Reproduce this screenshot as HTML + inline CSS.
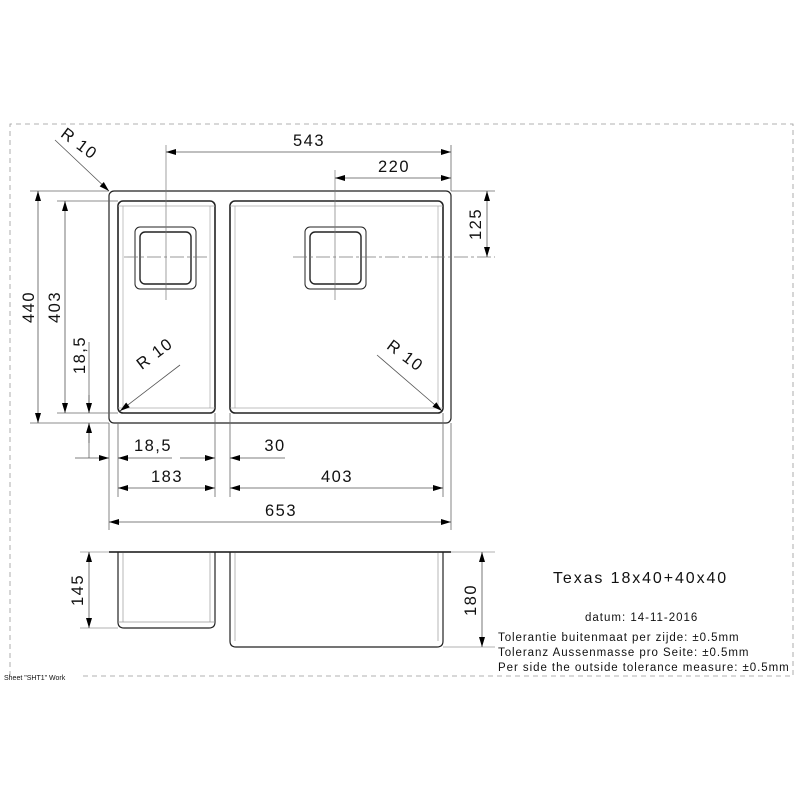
<!DOCTYPE html>
<html><head><meta charset="utf-8"><style>
html,body{margin:0;padding:0;background:#fff}
svg{display:block}
text{font-family:"Liberation Sans",sans-serif;fill:#111}
</style></head><body>
<svg width="800" height="800" viewBox="0 0 800 800" xmlns="http://www.w3.org/2000/svg">
<defs>
<marker id="a" viewBox="0 0 10 6" refX="10" refY="3" markerWidth="12" markerHeight="6" markerUnits="userSpaceOnUse" orient="auto-start-reverse"><path d="M0,0 L10,3 L0,6z" fill="#000"/></marker>
</defs>
<path d="M10,676 V124 H793 V676 H80" fill="none" stroke="#999" stroke-width="0.8" stroke-dasharray="5,4"/>
<text x="4" y="680" font-size="7" fill="#444">Sheet "SHT1" Work</text>

<g fill="none" stroke="#222">
<rect x="109" y="191" width="342" height="232" rx="5" stroke-width="1.2"/>
<rect x="118" y="201" width="97" height="212" rx="5" stroke-width="1.6"/>
<rect x="230" y="201" width="213" height="212" rx="5" stroke-width="1.6"/>
<rect x="135" y="227" width="61" height="62" rx="5" stroke-width="1"/>
<rect x="140" y="232" width="51" height="52" rx="5" stroke-width="1.4"/>
<rect x="305" y="227" width="61" height="62" rx="5" stroke-width="1"/>
<rect x="310" y="232" width="51" height="52" rx="5" stroke-width="1.4"/>
</g>
<g stroke="#aaa" stroke-width="0.7" fill="none">
<line x1="123" y1="206" x2="123" y2="408"/><line x1="210" y1="206" x2="210" y2="408"/>
<line x1="118" y1="408" x2="215" y2="408"/>
<line x1="235" y1="206" x2="235" y2="408"/><line x1="438" y1="206" x2="438" y2="408"/>
<line x1="230" y1="206" x2="443" y2="206"/><line x1="230" y1="408" x2="443" y2="408"/>
<line x1="118" y1="206" x2="215" y2="206"/>
</g>
<g stroke="#777" stroke-width="0.7" stroke-dasharray="14,3,3,3">
<line x1="124" y1="257" x2="210" y2="257"/>
<line x1="293" y1="257" x2="495" y2="257"/>
</g>
<line x1="166" y1="145" x2="166" y2="300" stroke="#777" stroke-width="0.7"/>
<line x1="335" y1="170" x2="335" y2="300" stroke="#777" stroke-width="0.7"/>

<g stroke="#666" stroke-width="0.8" fill="none">
<line x1="451" y1="145" x2="451" y2="191"/>
<line x1="451" y1="191" x2="495" y2="191"/>
<line x1="30" y1="191" x2="109" y2="191"/>
<line x1="30" y1="423" x2="109" y2="423"/>
<line x1="57" y1="201" x2="118" y2="201"/>
<line x1="57" y1="413" x2="118" y2="413"/>
<line x1="89" y1="342" x2="89" y2="413"/>
<line x1="89" y1="432" x2="89" y2="458"/>
<line x1="109" y1="423" x2="109" y2="530"/>
<line x1="118" y1="423" x2="118" y2="497"/>
<line x1="215" y1="413" x2="215" y2="497"/>
<line x1="230" y1="413" x2="230" y2="497"/>
<line x1="443" y1="413" x2="443" y2="497"/>
<line x1="451" y1="423" x2="451" y2="530"/>
</g>
<g stroke="#555" stroke-width="0.8" fill="none">
<line x1="166" y1="152" x2="451" y2="152" marker-start="url(#a)" marker-end="url(#a)"/>
<line x1="335" y1="178" x2="451" y2="178" marker-start="url(#a)" marker-end="url(#a)"/>
<line x1="487" y1="191" x2="487" y2="257" marker-start="url(#a)" marker-end="url(#a)"/>
<line x1="38" y1="191" x2="38" y2="423" marker-start="url(#a)" marker-end="url(#a)"/>
<line x1="65" y1="201" x2="65" y2="413" marker-start="url(#a)" marker-end="url(#a)"/>
<line x1="89" y1="395" x2="89" y2="413" marker-end="url(#a)"/>
<line x1="89" y1="443" x2="89" y2="423" marker-end="url(#a)"/>
<line x1="75" y1="458" x2="109" y2="458" marker-end="url(#a)"/>
<line x1="172" y1="458" x2="118" y2="458" marker-end="url(#a)"/>
<line x1="180" y1="458" x2="215" y2="458" marker-end="url(#a)"/>
<line x1="285" y1="458" x2="230" y2="458" marker-end="url(#a)"/>
<line x1="118" y1="488" x2="215" y2="488" marker-start="url(#a)" marker-end="url(#a)"/>
<line x1="230" y1="488" x2="443" y2="488" marker-start="url(#a)" marker-end="url(#a)"/>
<line x1="109" y1="522" x2="451" y2="522" marker-start="url(#a)" marker-end="url(#a)"/>
<line x1="55" y1="140" x2="109" y2="191" marker-end="url(#a)"/>
<line x1="180" y1="365" x2="120" y2="411" marker-end="url(#a)"/>
<line x1="377" y1="355" x2="442" y2="411" marker-end="url(#a)"/>
</g>
<g font-size="16.5" letter-spacing="1.5">
<text x="309" y="146" text-anchor="middle">543</text>
<text x="394" y="172" text-anchor="middle">220</text>
<text transform="translate(481,224) rotate(-90)" text-anchor="middle">125</text>
<text transform="translate(34,307) rotate(-90)" text-anchor="middle">440</text>
<text transform="translate(60,307) rotate(-90)" text-anchor="middle">403</text>
<text transform="translate(85,355) rotate(-90)" text-anchor="middle">18,5</text>
<text x="153" y="451" text-anchor="middle">18,5</text>
<text x="275" y="451" text-anchor="middle">30</text>
<text x="167" y="482" text-anchor="middle">183</text>
<text x="337" y="482" text-anchor="middle">403</text>
<text x="281" y="516" text-anchor="middle">653</text>
<text transform="translate(76,148) rotate(37)" text-anchor="middle">R 10</text>
<text transform="translate(158,358) rotate(-37)" text-anchor="middle">R 10</text>
<text transform="translate(402,360) rotate(37)" text-anchor="middle">R 10</text>
<text transform="translate(83,590) rotate(-90)" text-anchor="middle">145</text>
<text transform="translate(476,600) rotate(-90)" text-anchor="middle">180</text>
</g>

<line x1="109" y1="552" x2="451" y2="552" stroke="#111" stroke-width="1.6"/>
<g fill="none" stroke="#222" stroke-width="1.2">
<path d="M118,552 V622 Q118,628 124,628 H209 Q215,628 215,622 V552"/>
<path d="M230,552 V641 Q230,647 236,647 H437 Q443,647 443,641 V552"/>
</g>
<g stroke="#999" stroke-width="0.7" fill="none">
<line x1="123" y1="553" x2="123" y2="622"/><line x1="210" y1="553" x2="210" y2="622"/><line x1="118" y1="622" x2="215" y2="622"/>
<line x1="235" y1="553" x2="235" y2="641"/><line x1="438" y1="553" x2="438" y2="641"/>
<line x1="80" y1="552" x2="109" y2="552"/><line x1="80" y1="628" x2="118" y2="628"/>
<line x1="451" y1="552" x2="495" y2="552"/><line x1="443" y1="647" x2="495" y2="647"/>
</g>
<g stroke="#555" stroke-width="0.8">
<line x1="89" y1="552" x2="89" y2="628" marker-start="url(#a)" marker-end="url(#a)"/>
<line x1="482" y1="552" x2="482" y2="647" marker-start="url(#a)" marker-end="url(#a)"/>
</g>
<text x="553" y="583" font-size="16" letter-spacing="1.9">Texas 18x40+40x40</text>
<text x="585" y="621" font-size="11.5" letter-spacing="1">datum: 14-11-2016</text>
<g font-size="11.5" letter-spacing="0.95">
<text x="498" y="641">Tolerantie buitenmaat per zijde: ±0.5mm</text>
<text x="498" y="656">Toleranz Aussenmasse pro Seite: ±0.5mm</text>
<text x="498" y="671">Per side the outside tolerance measure: ±0.5mm</text>
</g>
</svg>
</body></html>
